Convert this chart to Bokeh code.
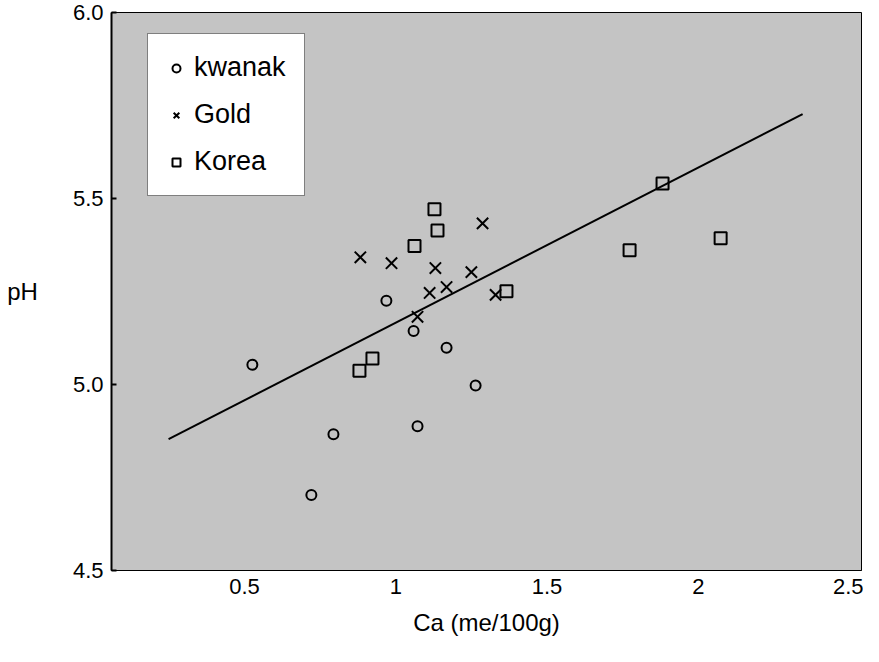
from bokeh.plotting import figure
from bokeh.models import Range1d, FixedTicker, Legend, LegendItem
from bokeh.embed import file_html
from bokeh.resources import INLINE

# --- data ---
kwanak_ca = [0.526, 0.969, 1.059, 1.168, 1.264, 1.072, 0.794, 0.721]
kwanak_ph = [5.053, 5.225, 5.144, 5.099, 4.997, 4.888, 4.866, 4.703]

gold_ca = [1.287, 0.883, 0.986, 1.131, 1.250, 1.168, 1.112, 1.330, 1.072]
gold_ph = [5.433, 5.342, 5.326, 5.313, 5.302, 5.262, 5.246, 5.241, 5.182]

korea_ca = [1.128, 1.138, 1.062, 1.366, 0.923, 0.880, 1.882, 1.773, 2.074]
korea_ph = [5.471, 5.414, 5.372, 5.251, 5.070, 5.037, 5.540, 5.361, 5.393]

fit_ca = [0.249, 2.345]
fit_ph = [4.853, 5.727]

x_ticks = [0.5, 1, 1.5, 2, 2.5]
x_tick_labels = ["0.5", "1", "1.5", "2", "2.5"]
y_ticks = [4.5, 5.0, 5.5, 6.0]
y_tick_labels = ["4.5", "5.0", "5.5", "6.0"]

FONT = "Liberation Sans"

p = figure(width=863, height=646, output_backend="svg", toolbar_location=None,
           x_range=Range1d(0.0603, 2.5397), y_range=Range1d(4.5, 6.0),
           min_border_left=111, min_border_right=2, min_border_top=12,
           min_border_bottom=76)
p.background_fill_color = "#c4c4c4"
p.border_fill_color = "white"
p.outline_line_color = "black"
p.outline_line_width = 1
p.grid.visible = False

p.line(fit_ca, fit_ph, line_color="black", line_width=2)
r1 = p.scatter(kwanak_ca, kwanak_ph, marker="circle", size=10, fill_color=None,
               line_color="black", line_width=2)
r2 = p.scatter(gold_ca, gold_ph, marker="x", size=16, line_color="black",
               line_width=2)
r3 = p.scatter(korea_ca, korea_ph, marker="square", size=12, fill_color=None,
               line_color="black", line_width=2)

# axes
xa = p.xaxis[0]
xa.ticker = FixedTicker(ticks=x_ticks)
xa.major_label_overrides = dict(zip(x_ticks, x_tick_labels))
xa.axis_label = "Ca (me/100g)"
xa.axis_label_text_font = FONT
xa.axis_label_text_font_style = "normal"
xa.axis_label_text_font_size = "24px"
xa.axis_label_text_color = "black"
xa.axis_label_standoff = 12
xa.major_label_text_font = FONT
xa.major_label_text_font_size = "22px"
xa.major_label_text_color = "black"
xa.major_label_standoff = 8
xa.major_tick_in = 0
xa.major_tick_out = 0
xa.minor_tick_in = 0
xa.minor_tick_out = 0
xa.axis_line_color = "black"

ya = p.yaxis[0]
ya.ticker = FixedTicker(ticks=y_ticks)
ya.major_label_overrides = dict(zip(y_ticks, y_tick_labels))
ya.axis_label = "pH"
ya.axis_label_orientation = "horizontal"
ya.axis_label_text_font = FONT
ya.axis_label_text_font_style = "normal"
ya.axis_label_text_font_size = "24px"
ya.axis_label_text_color = "black"
ya.axis_label_standoff = 32
ya.major_label_text_font = FONT
ya.major_label_text_font_size = "22px"
ya.major_label_text_color = "black"
ya.major_label_standoff = 8
ya.major_tick_in = 5
ya.major_tick_out = 0
ya.major_tick_line_width = 2
ya.minor_tick_in = 0
ya.minor_tick_out = 0
ya.axis_line_color = "black"
ya.axis_line_width = 2

legend = Legend(items=[LegendItem(label="kwanak", renderers=[r1]),
                       LegendItem(label="Gold", renderers=[r2]),
                       LegendItem(label="Korea", renderers=[r3])],
                location=(36, 374))
legend.label_text_font = FONT
legend.label_text_font_size = "27px"
legend.label_text_color = "black"
legend.background_fill_color = "white"
legend.background_fill_alpha = 1
legend.border_line_color = "black"
legend.border_line_width = 1
legend.padding = 18
legend.spacing = 16
legend.label_height = 30
legend.glyph_height = 30
legend.glyph_width = 20
legend.label_standoff = 8
legend.margin = 0
p.add_layout(legend)

open("out.html", "w").write(file_html(p, INLINE))
